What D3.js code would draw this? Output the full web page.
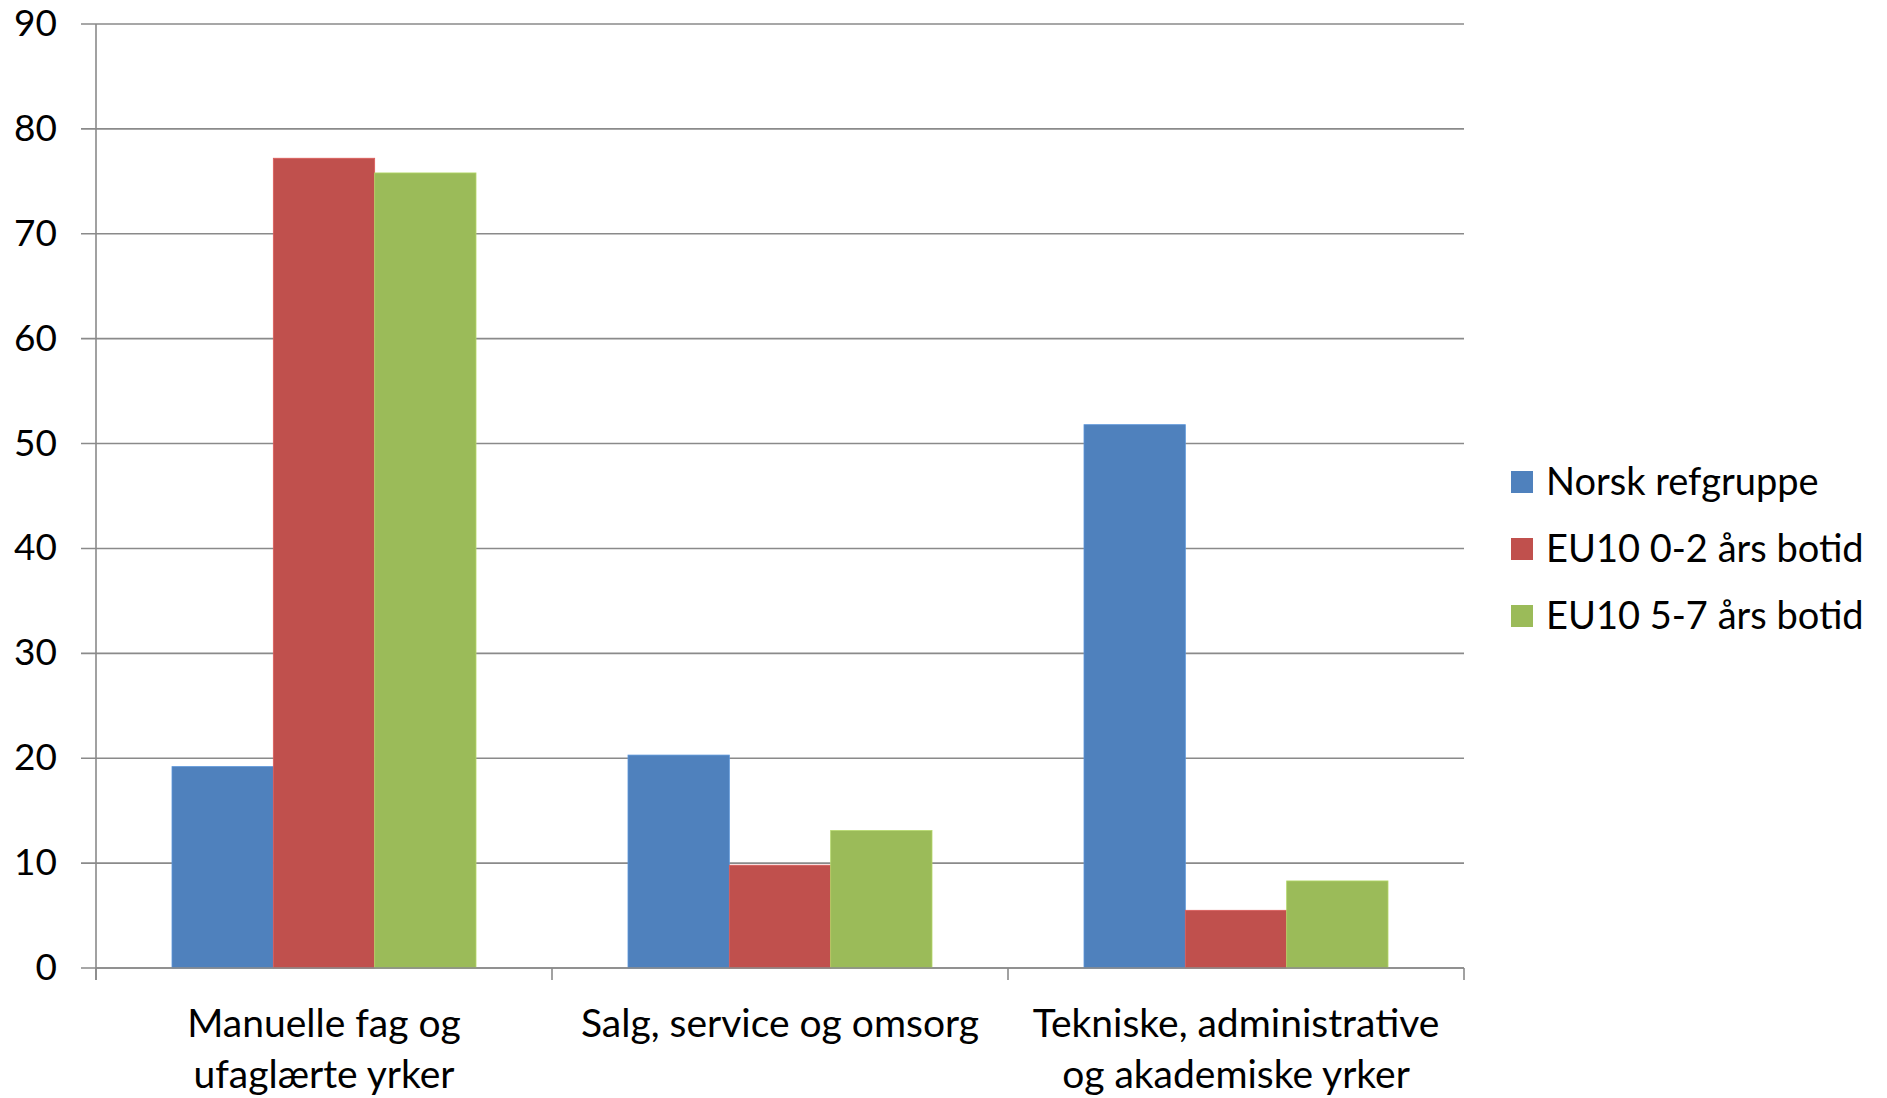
<!DOCTYPE html>
<html>
<head>
<meta charset="utf-8">
<script src="https://cdn.jsdelivr.net/npm/d3@7"></script>
<style>
  body { margin: 0; background: #fff; }
  text { font-family: Lato, "Noto Sans", sans-serif; fill: #000; }
</style>
</head>
<body>
<div id="chart"></div>
<script>
const categories = [
  ["Manuelle fag og", "ufaglærte yrker"],
  ["Salg, service og omsorg"],
  ["Tekniske, administrative", "og akademiske yrker"]
];
const seriesNames = ["Norsk refgruppe", "EU10 0-2 års botid", "EU10 5-7 års botid"];
const norsk = [19.2, 20.3, 51.8];
const eu02 = [77.2, 9.8, 5.5];
const eu57 = [75.8, 13.1, 8.3];
const yTicks = [0, 10, 20, 30, 40, 50, 60, 70, 80, 90];
const colors = ["#4f81bd", "#c0504d", "#9bbb59"];

const W = 1887, H = 1098;
const plotL = 96, plotR = 1464, plotT = 24, plotB = 968;
const grid = "#8a8a8a";

const svg = d3.select("#chart").append("svg")
  .attr("width", W).attr("height", H);

const y = d3.scaleLinear().domain([0, 90]).range([plotB, plotT]);
const x = d3.scaleBand().domain(d3.range(categories.length)).range([plotL, plotR]);
const inner = d3.scaleBand().domain(d3.range(3))
  .range([x.bandwidth() * 0.75 / 4.5, x.bandwidth() * 3.75 / 4.5]);

// gridlines
svg.append("g").selectAll("line").data(yTicks).enter().append("line")
  .attr("x1", plotL - 15).attr("x2", plotR)
  .attr("y1", d => y(d)).attr("y2", d => y(d))
  .attr("stroke", grid).attr("stroke-width", 1.6);

// y labels
svg.append("g").selectAll("text").data(yTicks).enter().append("text")
  .attr("x", 57).attr("y", d => y(d) + 12)
  .attr("text-anchor", "end")
  .style("font-size", "37px")
  .text(d => d);

// bars
const data = [norsk, eu02, eu57];
data.forEach((vals, s) => {
  svg.append("g").selectAll("rect").data(vals).enter().append("rect")
    .attr("x", (d, i) => x(i) + inner(s))
    .attr("width", inner.bandwidth())
    .attr("y", d => y(d))
    .attr("height", d => y(0) - y(d))
    .attr("fill", colors[s])
    .attr("stroke", d3.color(colors[s]).brighter(0.4))
    .attr("stroke-width", 0.8);
});

// axes
svg.append("line").attr("x1", plotL).attr("x2", plotL)
  .attr("y1", plotT).attr("y2", plotB + 12)
  .attr("stroke", grid).attr("stroke-width", 1.6);
svg.append("line").attr("x1", plotL).attr("x2", plotR)
  .attr("y1", plotB).attr("y2", plotB)
  .attr("stroke", grid).attr("stroke-width", 1.6);
const edges = d3.range(categories.length + 1).map(i => plotL + i * x.bandwidth());
svg.append("g").selectAll("line").data(edges).enter().append("line")
  .attr("x1", d => d).attr("x2", d => d)
  .attr("y1", plotB).attr("y2", plotB + 12)
  .attr("stroke", grid).attr("stroke-width", 1.6);

// category labels
categories.forEach((lines, i) => {
  const t = svg.append("text")
    .attr("x", x(i) + x.bandwidth() / 2)
    .attr("y", 1037)
    .attr("text-anchor", "middle")
    .style("font-size", "39px");
  lines.forEach((l, j) => {
    t.append("tspan").attr("x", x(i) + x.bandwidth() / 2)
      .attr("dy", j === 0 ? 0 : 51).text(l);
  });
});

// legend
const lg = svg.append("g").attr("transform", "translate(1511,482)");
seriesNames.forEach((n, i) => {
  lg.append("rect").attr("x", 0).attr("y", i * 67 - 11)
    .attr("width", 22).attr("height", 22).attr("fill", colors[i]);
  lg.append("text").attr("x", 35).attr("y", i * 67 + 13)
    .style("font-size", "38px").text(n);
});
</script>
</body>
</html>
